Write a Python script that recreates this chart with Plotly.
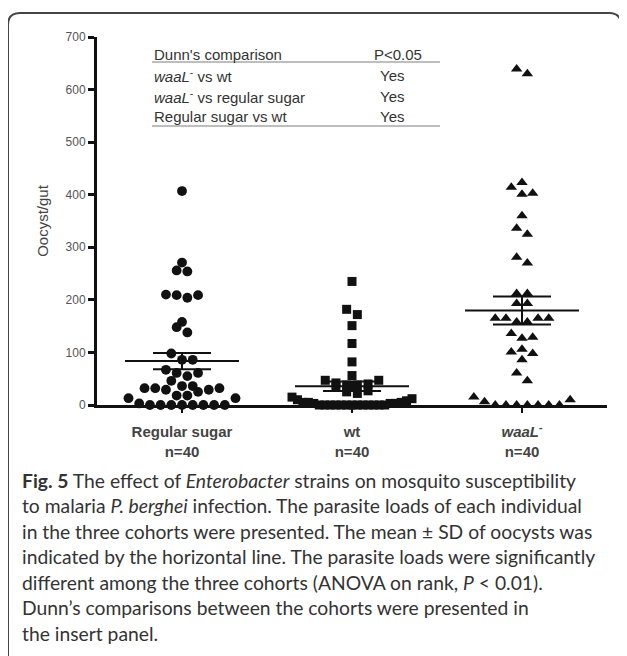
import numpy as np
import plotly.graph_objects as go

# ---------------- data ----------------
categories = ["Regular sugar", "wt", "waaL-"]
tick_labels = ["<b>Regular sugar<br>n=40</b>", "<b>wt<br>n=40</b>",
               "<b><i>waaL</i><sup>-</sup><br>n=40</b>"]
regular_sugar = [407, 271, 256, 254, 210, 209, 209, 204, 158, 148, 138,
                 98, 86, 86, 67, 61, 61, 55, 46,
                 36, 36, 32, 32, 32, 29, 29, 25,
                 18, 18, 13, 13, 3, 0, 0, 0, 0, 0, 0, 0, 0]
wt = [235, 182, 172, 151, 117, 82, 56, 47, 47, 38,
      42, 40, 38, 35, 27, 25, 22, 15, 12, 10, 8,
      5, 5, 5, 3, 3, 3,
      0, 0, 0, 0, 0, 0, 0, 0, 0, 0, 0, 0, 0]
waal = [630, 639, 414, 423, 401, 403, 360, 336, 325, 281, 270,
        212, 212, 193, 193, 165, 165, 165, 165, 158, 158,
        129, 127, 136, 101, 98, 106, 86, 61, 46, 15, 6, 10,
        0, 0, 0, 0, 0, 0, 0]
y_ticks = [0, 100, 200, 300, 400, 500, 600, 700]
table_header = ["Dunn's comparison", "P<0.05"]
table_rows = ["<i>waaL</i><sup>-</sup> vs wt",
              "<i>waaL</i><sup>-</sup> vs regular sugar",
              "Regular sugar vs wt"]
table_p = ["Yes", "Yes", "Yes"]
caption_lines = [
    "<b>Fig. 5</b> The effect of <i>Enterobacter</i> strains on mosquito susceptibility",
    "to malaria <i>P. berghei</i> infection. The parasite loads of each individual",
    "in the three cohorts were presented. The mean ± SD of oocysts was",
    "indicated by the horizontal line. The parasite loads were significantly",
    "different among the three cohorts (ANOVA on rank, <i>P</i> < 0.01).",
    "Dunn’s comparisons between the cohorts were presented in",
    "the insert panel.",
]

# ---------------- geometry (window pixels; page body has an 8px margin) ----------------
OFF = 8
W, H = 627 - OFF, 656 - OFF
L, R, T, B = 97, 607, 37, 405          # plot area in window pixels
YMAX = 700
ypx = (B - T) / YMAX
xpx = (R - L) / 3.0


def px2paper(px, py):
    return (px - L) / (R - L), (B - py) / (B - T)


def rows_layout(vals, h=16, step=10.7, maxhalf=60):
    """Group sorted values into rows; lowest values at the centre, higher outwards."""
    vals = np.asarray(vals, dtype=float)
    order = np.argsort(vals, kind="stable")
    offs = np.zeros(len(vals))
    rows, cur = [], [order[0]]
    for i in order[1:]:
        if vals[i] - vals[cur[0]] < h:
            cur.append(i)
        else:
            rows.append(cur)
            cur = [i]
    rows.append(cur)
    for row in rows:
        n = len(row)
        s = step if n < 2 else min(step, 2 * maxhalf / (n - 1))
        pos = [(k - (n - 1) / 2) * s for k in range(n)]
        pos.sort(key=lambda p: (abs(p), -p))
        for idx, p in zip(row, pos):
            offs[idx] = p
    return offs / xpx


groups = [regular_sugar, wt, waal]
symbols = ["circle", "square", "triangle-up"]
sizes = [9.8, 9, 10]

fig = go.Figure()
for gi, (vals, sym, sz) in enumerate(zip(groups, symbols, sizes)):
    xs = gi + rows_layout(vals)
    fig.add_trace(go.Scatter(
        x=xs, y=vals, mode="markers", cliponaxis=False,
        marker=dict(symbol=sym, size=sz, color="#111111", line=dict(width=0)),
        showlegend=False, hoverinfo="y"))

# mean and SEM lines
for gi, vals in enumerate(groups):
    v = np.asarray(vals, dtype=float)
    m = v.mean()
    se = v.std(ddof=1) / np.sqrt(len(v))
    hw_m, hw_s = 57 / xpx, 29 / xpx
    xs = [gi - hw_m, gi + hw_m, None,
          gi - hw_s, gi + hw_s, None,
          gi - hw_s, gi + hw_s, None,
          gi, gi]
    ys = [m, m, None, m + se, m + se, None, m - se, m - se, None, m - se, m + se]
    fig.add_trace(go.Scatter(x=xs, y=ys, mode="lines", cliponaxis=False,
                             line=dict(color="#111111", width=2),
                             showlegend=False, hoverinfo="skip"))

annotations = []
shapes = []
tfont = dict(family="Liberation Sans, Arial", size=15, color="#333")

# insert table
hx, hy = px2paper(152, 54)
annotations.append(dict(x=hx, y=hy, xref="paper", yref="paper", text=table_header[0],
                        showarrow=False, xanchor="left", yanchor="middle", font=tfont))
px_, _ = px2paper(372, 54)
annotations.append(dict(x=px_, y=hy, xref="paper", yref="paper", text=table_header[1],
                        showarrow=False, xanchor="left", yanchor="middle", font=tfont))
for ri, (lab, p) in enumerate(zip(table_rows, table_p)):
    py = 75 + ri * 21
    ax, ay = px2paper(152, py)
    annotations.append(dict(x=ax, y=ay, xref="paper", yref="paper", text=lab,
                            showarrow=False, xanchor="left", yanchor="middle", font=tfont))
    bx, _ = px2paper(378, py)
    annotations.append(dict(x=bx, y=ay, xref="paper", yref="paper", text=p,
                            showarrow=False, xanchor="left", yanchor="middle", font=tfont))
for ly in (62, 126):
    x0, y0 = px2paper(152, ly)
    x1, _ = px2paper(440, ly)
    shapes.append(dict(type="line", xref="paper", yref="paper", x0=x0, x1=x1, y0=y0, y1=y0,
                       line=dict(color="#a8a8a8", width=1.5)))

# caption
for li, line in enumerate(caption_lines):
    cx, cy = px2paper(20, 480 + li * 25.5)
    annotations.append(dict(x=cx, y=cy, xref="paper", yref="paper", text=line,
                            showarrow=False, xanchor="left", yanchor="middle",
                            font=dict(family="Lato", size=19.3, color="#333")))


# rounded frame
def P(px, py):
    a, b = px2paper(px, py)
    return f"{a:.5f},{b:.5f}"


r = 12
fl, ft, fr, fb = 8, 13, 621, 690
path = (f"M {P(fl, fb)} L {P(fl, ft + r)} Q {P(fl, ft)} {P(fl + r, ft)} "
        f"L {P(fr - r, ft)} Q {P(fr, ft)} {P(fr, ft + r)} L {P(fr, fb)}")
shapes.append(dict(type="path", xref="paper", yref="paper", path=path,
                   line=dict(color="#444444", width=2)))

fig.update_layout(
    width=W, height=H,
    margin=dict(l=L - OFF, r=(627 - R), t=T - OFF, b=656 - B, pad=0),
    paper_bgcolor="white", plot_bgcolor="white",
    annotations=annotations, shapes=shapes,
    xaxis=dict(range=[-0.5, 2.5], tickvals=[0, 1, 2], ticktext=tick_labels,
               showline=True, linecolor="#111", linewidth=3,
               ticks="outside", ticklen=5, tickwidth=2, tickcolor="#111",
               showgrid=False, zeroline=False, ticklabelstandoff=6,
               tickfont=dict(family="Liberation Sans, Arial", size=15, color="#444")),
    yaxis=dict(range=[0, YMAX], tickvals=y_ticks,
               showline=True, linecolor="#111", linewidth=3,
               ticks="outside", ticklen=6, tickwidth=2.5, tickcolor="#111",
               showgrid=False, zeroline=False,
               tickfont=dict(family="Liberation Sans, Arial", size=12, color="#555"),
               title=dict(text="Oocyst/gut", standoff=14,
                          font=dict(family="Liberation Sans, Arial", size=15, color="#444"))),
)

fig.write_html("out.html")
